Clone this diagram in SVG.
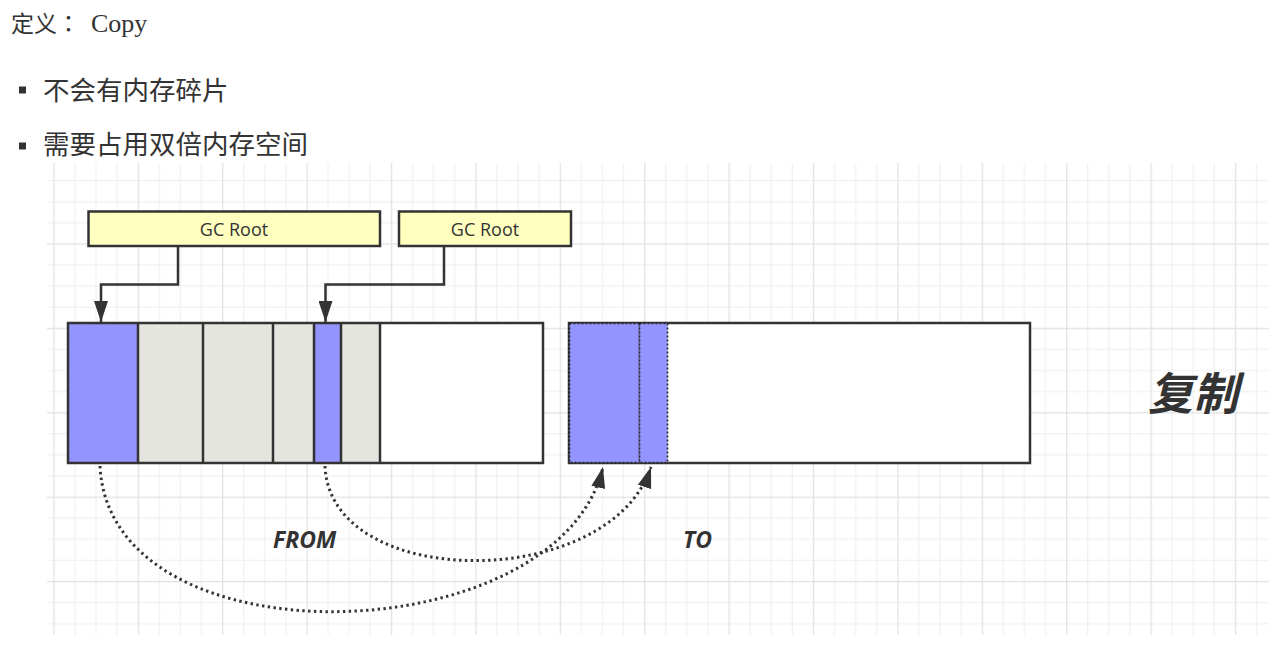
<svg xmlns="http://www.w3.org/2000/svg" width="1269" height="653" viewBox="0 0 1269 653">
<style>
.cjk{font-family:"Noto Sans CJK SC","Noto Sans",sans-serif;fill:#333}
.gc{fill:#ffffc0;stroke:#333;stroke-width:2.5}
.gct{font-family:"Open Sans","Noto Sans",sans-serif;font-size:18px;fill:#333;text-anchor:middle}
.blk{stroke:#333;stroke-width:2.5}
.blue{fill:#9494ff}
.gray{fill:#e5e5e0}
.dash{fill:#9494ff;stroke:#222;stroke-width:1.6;stroke-dasharray:2 2}
.lab{font-family:"Open Sans","Noto Sans",sans-serif;font-size:23px;font-weight:bold;font-style:italic;fill:#333}
.conn{fill:none;stroke:#333;stroke-width:2.5}
.dot{fill:none;stroke:#333;stroke-width:3;stroke-dasharray:2.4 3.4}
</style>
<defs>
<pattern id="grid" patternUnits="userSpaceOnUse" x="53.3" y="159" width="84.4" height="84.4">
<rect x="0" y="0" width="84.4" height="84.4" fill="#fff"/>
<g fill="#eeeeee">
<rect x="21.1" y="0" width="1" height="84.4"/>
<rect x="42.2" y="0" width="1" height="84.4"/>
<rect x="63.3" y="0" width="1" height="84.4"/>
<rect x="0" y="21.1" width="84.4" height="1"/>
<rect x="0" y="42.2" width="84.4" height="1"/>
<rect x="0" y="63.3" width="84.4" height="1"/>
</g>
<g fill="#e2e2e2">
<rect x="0" y="0" width="1.3" height="84.4"/>
<rect x="0" y="0" width="84.4" height="1.3"/>
</g>
</pattern>
<marker id="arr" markerUnits="userSpaceOnUse" viewBox="0 0 21 14" markerWidth="21" markerHeight="14" refX="21" refY="7" orient="auto">
<path d="M0,0 L21,7 L0,14 Z" fill="#333"/>
</marker>
</defs>
<rect width="1269" height="653" fill="#fff"/>
<rect x="47" y="163" width="1222" height="472" fill="url(#grid)"/>

<g id="title">
<text class="cjk" x="11" y="32" font-size="23">定义<tspan font-family="Noto Sans CJK TC,sans-serif">：</tspan><tspan x="91" font-family="Liberation Serif,serif" font-size="26">Copy</tspan></text>
</g>
<g id="bullets">
<rect x="19" y="86.5" width="7" height="7" fill="#333"/>
<text class="cjk" x="43" y="100" font-size="26.5">不会有内存碎片</text>
<rect x="19" y="142.5" width="7" height="7" fill="#333"/>
<text class="cjk" x="43" y="154" font-size="26.5">需要占用双倍内存空间</text>
</g>

<g id="gcroot1">
<rect class="gc" x="88.5" y="211.5" width="291.5" height="34.5"/>
<text class="gct" x="234" y="235.5">GC Root</text>
</g>
<g id="gcroot2">
<rect class="gc" x="399" y="211.5" width="172" height="34.5"/>
<text class="gct" x="485" y="235.5">GC Root</text>
</g>

<g id="from">
<rect x="68" y="323" width="475" height="140" fill="#fff"/>
<rect class="blue" x="68" y="323" width="70" height="140"/>
<rect class="gray" x="138" y="323" width="65" height="140"/>
<rect class="gray" x="203" y="323" width="70" height="140"/>
<rect class="gray" x="273" y="323" width="41" height="140"/>
<rect class="blue" x="314" y="323" width="27" height="140"/>
<rect class="gray" x="341" y="323" width="39" height="140"/>
<g class="blk">
<line x1="138" y1="323" x2="138" y2="463"/>
<line x1="203" y1="323" x2="203" y2="463"/>
<line x1="273" y1="323" x2="273" y2="463"/>
<line x1="314" y1="323" x2="314" y2="463"/>
<line x1="341" y1="323" x2="341" y2="463"/>
<line x1="380" y1="323" x2="380" y2="463"/>
</g>
<rect class="blk" x="68" y="323" width="475" height="140" fill="none"/>
<text class="lab" x="273" y="548">FROM</text>
</g>

<g id="to">
<rect class="blk" x="569" y="323" width="461" height="140" fill="#fff"/>
<rect class="dash" x="569.5" y="323.5" width="70" height="139"/>
<rect class="dash" x="639.5" y="323.5" width="28" height="139"/>
<text class="lab" x="683" y="548">TO</text>
</g>

<g id="copy-label">
<text class="cjk" x="1148" y="410" font-size="45" font-weight="bold" font-style="italic">复制</text>
</g>

<g id="connectors">
<path class="conn" d="M178,246 V284.5 H101 V322" marker-end="url(#arr)"/>
<path class="conn" d="M444,246 V284.5 H325.5 V322" marker-end="url(#arr)"/>
<path class="dot" d="M100,466 C110,668 560,652 603,467" marker-end="url(#arr)"/>
<path class="dot" d="M325,466 C330,592 610,592 651,467" marker-end="url(#arr)"/>
</g>
</svg>
